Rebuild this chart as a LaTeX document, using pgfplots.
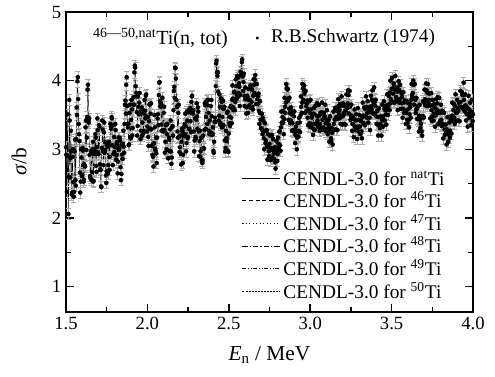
\documentclass[border=0pt]{standalone}
\usepackage{pgfplots}
\usepackage{pgfplotstable}
\pgfplotsset{compat=1.18}
\usepackage{fontspec}
\setmainfont{Liberation Serif}

\pgfplotstableread[row sep=\\]{
E s\\
1.500 3.03\\ 1.505 2.38\\ 1.510 3.51\\ 1.515 2.06\\ 1.520 3.72\\ 1.525 2.59\\ 1.530 3.27\\ 1.535 2.34\\ 1.540 2.89\\ 1.545 2.52\\
1.550 2.38\\ 1.555 3.14\\ 1.560 2.47\\ 1.565 3.61\\ 1.570 3.99\\ 1.575 3.73\\ 1.580 3.22\\ 1.585 2.66\\ 1.590 2.53\\ 1.595 2.88\\
1.600 2.63\\ 1.605 2.98\\ 1.610 2.56\\ 1.615 2.76\\ 1.620 3.32\\ 1.625 2.99\\ 1.630 3.47\\ 1.635 3.94\\ 1.640 3.39\\ 1.645 2.92\\
1.650 2.58\\ 1.655 2.94\\ 1.660 2.67\\ 1.665 3.11\\ 1.670 2.54\\ 1.675 2.93\\ 1.680 3.22\\ 1.685 2.76\\ 1.690 3.03\\ 1.695 3.28\\
1.700 2.93\\ 1.705 3.33\\ 1.710 2.71\\ 1.715 2.46\\ 1.720 3.02\\ 1.725 3.29\\ 1.730 2.77\\ 1.735 3.39\\ 1.740 2.99\\ 1.745 2.62\\
1.750 2.68\\ 1.755 3.04\\ 1.760 2.77\\ 1.765 3.11\\ 1.770 2.89\\ 1.775 3.33\\ 1.780 3.47\\ 1.785 3.06\\ 1.790 2.93\\ 1.795 3.18\\
1.800 3.03\\ 1.805 3.28\\ 1.810 2.91\\ 1.815 3.06\\ 1.820 2.82\\ 1.825 2.99\\ 1.830 3.17\\ 1.835 2.74\\ 1.840 2.64\\ 1.845 2.92\\
1.850 3.08\\ 1.855 3.04\\ 1.860 3.37\\ 1.865 3.71\\ 1.870 3.94\\ 1.875 3.63\\ 1.880 3.32\\ 1.885 3.06\\ 1.890 3.53\\ 1.895 3.18\\
1.900 3.43\\ 1.905 3.58\\ 1.910 3.31\\ 1.915 3.76\\ 1.920 4.12\\ 1.925 4.19\\ 1.930 3.77\\ 1.935 3.54\\ 1.940 3.34\\ 1.945 3.62\\
1.950 3.68\\ 1.955 3.54\\ 1.960 3.27\\ 1.965 3.61\\ 1.970 3.39\\ 1.975 3.23\\ 1.980 3.52\\ 1.985 3.56\\ 1.990 3.78\\ 1.995 3.48\\
2.000 3.33\\ 2.005 3.18\\ 2.010 3.41\\ 2.015 3.66\\ 2.020 3.52\\ 2.025 3.29\\ 2.030 2.92\\ 2.035 2.89\\ 2.040 3.09\\ 2.045 3.32\\
2.050 2.98\\ 2.055 2.94\\ 2.060 3.17\\ 2.065 3.51\\ 2.070 3.79\\ 2.075 3.98\\ 2.080 3.62\\ 2.085 3.36\\ 2.090 3.63\\ 2.095 3.28\\
2.100 3.53\\ 2.105 3.28\\ 2.110 3.11\\ 2.115 3.36\\ 2.120 3.22\\ 2.125 2.99\\ 2.130 2.87\\ 2.135 3.14\\ 2.140 3.29\\ 2.145 2.97\\
2.150 2.88\\ 2.155 3.34\\ 2.160 3.57\\ 2.165 3.91\\ 2.170 4.19\\ 2.175 4.03\\ 2.180 3.62\\ 2.185 3.26\\ 2.190 3.53\\ 2.195 3.18\\
2.200 3.03\\ 2.205 2.93\\ 2.210 3.11\\ 2.215 3.26\\ 2.220 2.92\\ 2.225 3.19\\ 2.230 3.37\\ 2.235 3.34\\ 2.240 3.09\\ 2.245 3.42\\
2.250 3.18\\ 2.255 3.54\\ 2.260 3.57\\ 2.265 3.41\\ 2.270 3.69\\ 2.275 3.78\\ 2.280 3.52\\ 2.285 3.26\\ 2.290 3.13\\ 2.295 3.18\\
2.300 3.43\\ 2.305 3.48\\ 2.310 3.61\\ 2.315 3.26\\ 2.320 3.12\\ 2.325 2.89\\ 2.330 3.17\\ 2.335 2.84\\ 2.340 2.84\\ 2.345 3.02\\
2.350 3.28\\ 2.355 3.64\\ 2.360 3.47\\ 2.365 3.71\\ 2.370 3.64\\ 2.375 3.53\\ 2.380 3.22\\ 2.385 3.26\\ 2.390 3.63\\ 2.395 3.48\\
2.400 3.23\\ 2.405 2.98\\ 2.410 3.11\\ 2.415 3.46\\ 2.420 3.92\\ 2.425 4.29\\ 2.430 4.07\\ 2.435 3.84\\ 2.440 3.49\\ 2.445 3.62\\
2.450 3.38\\ 2.455 3.69\\ 2.460 3.47\\ 2.465 3.71\\ 2.470 3.59\\ 2.475 3.13\\ 2.480 3.02\\ 2.485 3.16\\ 2.490 3.53\\ 2.495 2.98\\
2.500 3.23\\ 2.505 3.38\\ 2.510 3.61\\ 2.515 3.46\\ 2.520 3.72\\ 2.525 3.74\\ 2.530 3.57\\ 2.535 3.84\\ 2.540 3.69\\ 2.545 3.92\\
2.550 3.78\\ 2.555 4.04\\ 2.560 3.82\\ 2.565 3.91\\ 2.570 3.79\\ 2.575 4.08\\ 2.580 4.27\\ 2.585 4.06\\ 2.590 3.98\\ 2.595 3.78\\
2.600 3.73\\ 2.605 3.73\\ 2.610 3.61\\ 2.615 3.76\\ 2.620 3.72\\ 2.625 3.64\\ 2.630 3.72\\ 2.635 3.89\\ 2.640 3.69\\ 2.645 3.62\\
2.650 3.78\\ 2.655 3.94\\ 2.660 4.02\\ 2.665 3.96\\ 2.670 3.79\\ 2.675 3.73\\ 2.680 3.77\\ 2.685 3.56\\ 2.690 3.53\\ 2.695 3.43\\
2.700 3.43\\ 2.705 3.28\\ 2.710 3.46\\ 2.715 3.16\\ 2.720 3.27\\ 2.725 3.09\\ 2.730 3.27\\ 2.735 3.04\\ 2.740 3.04\\ 2.745 2.97\\
2.750 3.08\\ 2.755 2.99\\ 2.760 3.02\\ 2.765 3.21\\ 2.770 2.99\\ 2.775 2.93\\ 2.780 2.97\\ 2.785 2.81\\ 2.790 2.83\\ 2.795 2.98\\
2.800 2.93\\ 2.805 3.08\\ 2.810 3.26\\ 2.815 3.06\\ 2.820 3.32\\ 2.825 3.39\\ 2.830 3.47\\ 2.835 3.39\\ 2.840 3.44\\ 2.845 3.62\\
2.850 3.68\\ 2.855 3.89\\ 2.860 3.87\\ 2.865 3.71\\ 2.870 3.59\\ 2.875 3.53\\ 2.880 3.42\\ 2.885 3.51\\ 2.890 3.38\\ 2.895 3.28\\
2.900 3.48\\ 2.905 3.28\\ 2.910 3.21\\ 2.915 3.26\\ 2.920 3.17\\ 2.925 3.19\\ 2.930 3.27\\ 2.935 3.39\\ 2.940 3.49\\ 2.945 3.62\\
2.950 3.68\\ 2.955 3.89\\ 2.960 3.87\\ 2.965 3.81\\ 2.970 3.69\\ 2.975 3.63\\ 2.980 3.67\\ 2.985 3.46\\ 2.990 3.58\\ 2.995 3.38\\
3.000 3.53\\ 3.005 3.58\\ 3.010 3.46\\ 3.015 3.31\\ 3.020 3.52\\ 3.025 3.29\\ 3.030 3.37\\ 3.035 3.64\\ 3.040 3.49\\ 3.045 3.42\\
3.050 3.48\\ 3.055 3.49\\ 3.060 3.37\\ 3.065 3.51\\ 3.070 3.54\\ 3.075 3.43\\ 3.080 3.32\\ 3.085 3.46\\ 3.090 3.48\\ 3.095 3.38\\
3.100 3.38\\ 3.105 3.43\\ 3.110 3.31\\ 3.115 3.36\\ 3.120 3.27\\ 3.125 3.29\\ 3.130 3.12\\ 3.135 3.24\\ 3.140 3.29\\ 3.145 3.37\\
3.150 3.43\\ 3.155 3.44\\ 3.160 3.47\\ 3.165 3.56\\ 3.170 3.44\\ 3.175 3.63\\ 3.180 3.57\\ 3.185 3.46\\ 3.190 3.63\\ 3.195 3.48\\
3.200 3.48\\ 3.205 3.53\\ 3.210 3.51\\ 3.215 3.56\\ 3.220 3.57\\ 3.225 3.64\\ 3.230 3.67\\ 3.235 3.79\\ 3.240 3.64\\ 3.245 3.62\\
3.250 3.48\\ 3.255 3.49\\ 3.260 3.37\\ 3.265 3.36\\ 3.270 3.44\\ 3.275 3.33\\ 3.280 3.42\\ 3.285 3.31\\ 3.290 3.33\\ 3.295 3.43\\
3.300 3.33\\ 3.305 3.33\\ 3.310 3.41\\ 3.315 3.26\\ 3.320 3.47\\ 3.325 3.49\\ 3.330 3.37\\ 3.335 3.59\\ 3.340 3.49\\ 3.345 3.62\\
3.350 3.53\\ 3.355 3.54\\ 3.360 3.57\\ 3.365 3.46\\ 3.370 3.54\\ 3.375 3.63\\ 3.380 3.72\\ 3.385 3.71\\ 3.390 3.68\\ 3.395 3.68\\
3.400 3.63\\ 3.405 3.48\\ 3.410 3.56\\ 3.415 3.36\\ 3.420 3.47\\ 3.425 3.34\\ 3.430 3.37\\ 3.435 3.34\\ 3.440 3.44\\ 3.445 3.42\\
3.450 3.48\\ 3.455 3.59\\ 3.460 3.57\\ 3.465 3.51\\ 3.470 3.64\\ 3.475 3.58\\ 3.480 3.62\\ 3.485 3.66\\ 3.490 3.83\\ 3.495 3.73\\
3.500 3.88\\ 3.505 3.88\\ 3.510 3.81\\ 3.515 3.91\\ 3.520 3.87\\ 3.525 3.89\\ 3.530 3.72\\ 3.535 3.84\\ 3.540 3.69\\ 3.545 3.87\\
3.550 3.73\\ 3.555 3.84\\ 3.560 3.67\\ 3.565 3.76\\ 3.570 3.59\\ 3.575 3.68\\ 3.580 3.57\\ 3.585 3.56\\ 3.590 3.53\\ 3.595 3.43\\
3.600 3.58\\ 3.605 3.43\\ 3.610 3.51\\ 3.615 3.61\\ 3.620 3.72\\ 3.625 3.79\\ 3.630 3.82\\ 3.635 3.94\\ 3.640 3.74\\ 3.645 3.72\\
3.650 3.58\\ 3.655 3.59\\ 3.660 3.62\\ 3.665 3.46\\ 3.670 3.49\\ 3.675 3.43\\ 3.680 3.37\\ 3.685 3.26\\ 3.690 3.48\\ 3.695 3.48\\
3.700 3.68\\ 3.705 3.73\\ 3.710 3.86\\ 3.715 3.86\\ 3.720 3.82\\ 3.725 3.69\\ 3.730 3.72\\ 3.735 3.64\\ 3.740 3.64\\ 3.745 3.57\\
3.750 3.48\\ 3.755 3.64\\ 3.760 3.52\\ 3.765 3.61\\ 3.770 3.49\\ 3.775 3.58\\ 3.780 3.67\\ 3.785 3.56\\ 3.790 3.53\\ 3.795 3.53\\
3.800 3.53\\ 3.805 3.43\\ 3.810 3.56\\ 3.815 3.36\\ 3.820 3.37\\ 3.825 3.29\\ 3.830 3.22\\ 3.835 3.24\\ 3.840 3.29\\ 3.845 3.22\\
3.850 3.23\\ 3.855 3.39\\ 3.860 3.27\\ 3.865 3.41\\ 3.870 3.49\\ 3.875 3.48\\ 3.880 3.57\\ 3.885 3.46\\ 3.890 3.63\\ 3.895 3.53\\
3.900 3.53\\ 3.905 3.58\\ 3.910 3.56\\ 3.915 3.61\\ 3.920 3.62\\ 3.925 3.69\\ 3.930 3.62\\ 3.935 3.79\\ 3.940 3.79\\ 3.945 3.72\\
3.950 3.63\\ 3.955 3.64\\ 3.960 3.52\\ 3.965 3.51\\ 3.970 3.59\\ 3.975 3.58\\ 3.980 3.52\\ 3.985 3.56\\ 3.990 3.48\\ 3.995 3.53\\
4.000 3.51\\
}\datatab

\pgfplotstableread[row sep=\\]{
E s\\
1.5025 2.92\\ 1.5075 2.70\\ 1.5125 2.90\\ 1.5175 2.60\\ 1.5225 3.42\\ 1.5275 2.87\\ 1.5325 2.97\\ 1.5375 2.37\\ 1.5425 3.00\\ 1.5475 2.31\\
1.5525 2.97\\ 1.5575 2.55\\ 1.5625 3.15\\ 1.5675 3.50\\ 1.5725 4.05\\ 1.5775 3.37\\ 1.5825 3.12\\ 1.5875 2.37\\ 1.5925 3.00\\ 1.5975 2.61\\
1.6025 3.02\\ 1.6075 2.53\\ 1.6125 2.78\\ 1.6175 2.75\\ 1.6225 3.42\\ 1.6275 3.17\\ 1.6325 3.87\\ 1.6375 3.42\\ 1.6425 3.45\\ 1.6475 2.61\\
1.6525 2.97\\ 1.6575 2.55\\ 1.6625 3.00\\ 1.6675 2.53\\ 1.6725 3.00\\ 1.6775 2.97\\ 1.6825 3.17\\ 1.6875 2.67\\ 1.6925 3.45\\ 1.6975 2.96\\
1.7025 3.35\\ 1.7075 2.78\\ 1.7125 2.70\\ 1.7175 2.45\\ 1.7225 3.42\\ 1.7275 2.97\\ 1.7325 3.25\\ 1.7375 2.95\\ 1.7425 3.10\\ 1.7475 2.51\\
1.7525 3.07\\ 1.7575 2.65\\ 1.7625 3.05\\ 1.7675 2.70\\ 1.7725 3.37\\ 1.7775 3.30\\ 1.7825 3.45\\ 1.7875 2.77\\ 1.7925 3.35\\ 1.7975 2.96\\
1.8025 3.37\\ 1.8075 2.85\\ 1.8125 3.10\\ 1.8175 2.65\\ 1.8225 3.17\\ 1.8275 3.02\\ 1.8325 3.12\\ 1.8375 2.55\\ 1.8425 3.07\\ 1.8475 2.86\\
1.8525 3.27\\ 1.8575 2.95\\ 1.8625 3.65\\ 1.8675 3.52\\ 1.8725 4.05\\ 1.8775 3.37\\ 1.8825 3.37\\ 1.8875 3.07\\ 1.8925 3.65\\ 1.8975 3.16\\
1.9025 3.72\\ 1.9075 3.20\\ 1.9125 3.65\\ 1.9175 3.65\\ 1.9225 4.22\\ 1.9275 3.92\\ 1.9325 3.82\\ 1.9375 3.20\\ 1.9425 3.77\\ 1.9475 3.51\\
1.9525 3.82\\ 1.9575 3.15\\ 1.9625 3.55\\ 1.9675 3.20\\ 1.9725 3.57\\ 1.9775 3.27\\ 1.9825 3.72\\ 1.9875 3.45\\ 1.9925 3.80\\ 1.9975 3.26\\
2.0025 3.47\\ 2.0075 3.05\\ 2.0125 3.65\\ 2.0175 3.30\\ 2.0225 3.67\\ 2.0275 3.05\\ 2.0325 3.07\\ 2.0375 2.75\\ 2.0425 3.50\\ 2.0475 3.01\\
2.0525 3.17\\ 2.0575 2.80\\ 2.0625 3.45\\ 2.0675 3.35\\ 2.0725 3.97\\ 2.0775 3.70\\ 2.0825 3.67\\ 2.0875 3.27\\ 2.0925 3.75\\ 2.0975 3.26\\
2.1025 3.62\\ 2.1075 2.95\\ 2.1125 3.35\\ 2.1175 3.00\\ 2.1225 3.37\\ 2.1275 2.87\\ 2.1325 3.17\\ 2.1375 2.97\\ 2.1425 3.42\\ 2.1475 2.79\\
2.1525 3.32\\ 2.1575 3.20\\ 2.1625 3.85\\ 2.1675 3.75\\ 2.1725 4.18\\ 2.1775 3.72\\ 2.1825 3.62\\ 2.1875 3.17\\ 2.1925 3.65\\ 2.1975 2.96\\
2.2025 3.20\\ 2.2075 2.78\\ 2.2125 3.30\\ 2.2175 2.80\\ 2.2225 3.32\\ 2.2275 3.22\\ 2.2325 3.52\\ 2.2375 2.97\\ 2.2425 3.55\\ 2.2475 3.16\\
2.2525 3.57\\ 2.2575 3.30\\ 2.2625 3.60\\ 2.2675 3.25\\ 2.2725 3.77\\ 2.2775 3.55\\ 2.2825 3.57\\ 2.2875 2.97\\ 2.2925 3.45\\ 2.2975 3.16\\
2.3025 3.67\\ 2.3075 3.30\\ 2.3125 3.55\\ 2.3175 2.90\\ 2.3225 3.27\\ 2.3275 2.97\\ 2.3325 3.17\\ 2.3375 2.80\\ 2.3425 3.20\\ 2.3475 3.01\\
2.3525 3.67\\ 2.3575 3.30\\ 2.3625 3.70\\ 2.3675 3.37\\ 2.3725 3.72\\ 2.3775 3.27\\ 2.3825 3.42\\ 2.3875 3.22\\ 2.3925 3.72\\ 2.3975 3.21\\
2.4025 3.32\\ 2.4075 2.95\\ 2.4125 3.40\\ 2.4175 3.40\\ 2.4225 4.25\\ 2.4275 4.12\\ 2.4325 4.12\\ 2.4375 3.42\\ 2.4425 3.80\\ 2.4475 3.36\\
2.4525 3.74\\ 2.4575 3.32\\ 2.4625 3.70\\ 2.4675 3.35\\ 2.4725 3.62\\ 2.4775 2.97\\ 2.4825 3.27\\ 2.4875 3.12\\ 2.4925 3.55\\ 2.4975 2.96\\
2.5025 3.47\\ 2.5075 3.34\\ 2.5125 3.63\\ 2.5175 3.38\\ 2.5225 3.93\\ 2.5275 3.61\\ 2.5325 3.83\\ 2.5375 3.57\\ 2.5425 4.02\\ 2.5475 3.73\\
2.5525 4.07\\ 2.5575 3.77\\ 2.5625 3.96\\ 2.5675 3.63\\ 2.5725 4.13\\ 2.5775 4.08\\ 2.5825 4.31\\ 2.5875 3.85\\ 2.5925 4.10\\ 2.5975 3.63\\
2.6025 3.90\\ 2.6075 3.52\\ 2.6125 3.78\\ 2.6175 3.53\\ 2.6225 3.88\\ 2.6275 3.63\\ 2.6325 3.93\\ 2.6375 3.60\\ 2.6425 3.87\\ 2.6475 3.58\\
2.6525 4.02\\ 2.6575 3.82\\ 2.6625 4.08\\ 2.6675 3.66\\ 2.6725 3.95\\ 2.6775 3.66\\ 2.6825 3.81\\ 2.6875 3.37\\ 2.6925 3.70\\ 2.6975 3.31\\
2.7025 3.52\\ 2.7075 3.22\\ 2.7125 3.41\\ 2.7175 3.00\\ 2.7225 3.38\\ 2.7275 3.13\\ 2.7325 3.28\\ 2.7375 2.85\\ 2.7425 3.22\\ 2.7475 2.90\\
2.7525 3.20\\ 2.7575 2.84\\ 2.7625 3.20\\ 2.7675 2.88\\ 2.7725 3.15\\ 2.7775 2.86\\ 2.7825 3.03\\ 2.7875 2.72\\ 2.7925 3.12\\ 2.7975 2.83\\
2.8025 3.17\\ 2.8075 3.02\\ 2.8125 3.26\\ 2.8175 2.98\\ 2.8225 3.55\\ 2.8275 3.38\\ 2.8325 3.56\\ 2.8375 3.22\\ 2.8425 3.75\\ 2.8475 3.53\\
2.8525 3.95\\ 2.8575 3.72\\ 2.8625 3.88\\ 2.8675 3.43\\ 2.8725 3.75\\ 2.8775 3.38\\ 2.8825 3.61\\ 2.8875 3.27\\ 2.8925 3.55\\ 2.8975 3.26\\
2.9025 3.55\\ 2.9075 3.09\\ 2.9125 3.33\\ 2.9175 3.00\\ 2.9225 3.38\\ 2.9275 3.18\\ 2.9325 3.46\\ 2.9375 3.25\\ 2.9425 3.77\\ 2.9475 3.53\\
2.9525 3.95\\ 2.9575 3.72\\ 2.9625 3.93\\ 2.9675 3.53\\ 2.9725 3.85\\ 2.9775 3.56\\ 2.9825 3.71\\ 2.9875 3.35\\ 2.9925 3.70\\ 2.9975 3.33\\
3.0025 3.72\\ 3.0075 3.37\\ 3.0125 3.48\\ 3.0175 3.21\\ 3.0225 3.60\\ 3.0275 3.28\\ 3.0325 3.63\\ 3.0375 3.37\\ 3.0425 3.67\\ 3.0475 3.33\\
3.0525 3.65\\ 3.0575 3.27\\ 3.0625 3.53\\ 3.0675 3.31\\ 3.0725 3.68\\ 3.0775 3.28\\ 3.0825 3.53\\ 3.0875 3.30\\ 3.0925 3.65\\ 3.0975 3.26\\
3.1025 3.57\\ 3.1075 3.22\\ 3.1125 3.43\\ 3.1175 3.11\\ 3.1225 3.48\\ 3.1275 3.16\\ 3.1325 3.31\\ 3.1375 3.07\\ 3.1425 3.55\\ 3.1475 3.28\\
3.1525 3.60\\ 3.1575 3.29\\ 3.1625 3.61\\ 3.1675 3.28\\ 3.1725 3.73\\ 3.1775 3.51\\ 3.1825 3.66\\ 3.1875 3.37\\ 3.1925 3.77\\ 3.1975 3.36\\
3.2025 3.67\\ 3.2075 3.37\\ 3.2125 3.63\\ 3.2175 3.36\\ 3.2225 3.80\\ 3.2275 3.60\\ 3.2325 3.86\\ 3.2375 3.52\\ 3.2425 3.85\\ 3.2475 3.43\\
3.2525 3.65\\ 3.2575 3.27\\ 3.2625 3.46\\ 3.2675 3.18\\ 3.2725 3.58\\ 3.2775 3.28\\ 3.2825 3.51\\ 3.2875 3.15\\ 3.2925 3.60\\ 3.2975 3.26\\
3.3025 3.50\\ 3.3075 3.22\\ 3.3125 3.43\\ 3.3175 3.16\\ 3.3225 3.68\\ 3.3275 3.38\\ 3.3325 3.61\\ 3.3375 3.35\\ 3.3425 3.77\\ 3.3475 3.46\\
3.3525 3.70\\ 3.3575 3.39\\ 3.3625 3.61\\ 3.3675 3.28\\ 3.3725 3.78\\ 3.3775 3.58\\ 3.3825 3.86\\ 3.3875 3.52\\ 3.3925 3.90\\ 3.3975 3.53\\
3.4025 3.72\\ 3.4075 3.37\\ 3.4125 3.56\\ 3.4175 3.20\\ 3.4225 3.60\\ 3.4275 3.31\\ 3.4325 3.48\\ 3.4375 3.20\\ 3.4425 3.65\\ 3.4475 3.33\\
3.4525 3.70\\ 3.4575 3.42\\ 3.4625 3.63\\ 3.4675 3.36\\ 3.4725 3.80\\ 3.4775 3.50\\ 3.4825 3.78\\ 3.4875 3.57\\ 3.4925 4.00\\ 3.4975 3.68\\
3.5025 4.04\\ 3.5075 3.69\\ 3.5125 3.96\\ 3.5175 3.68\\ 3.5225 4.07\\ 3.5275 3.76\\ 3.5325 3.90\\ 3.5375 3.57\\ 3.5425 3.99\\ 3.5475 3.68\\
3.5525 3.94\\ 3.5575 3.59\\ 3.5625 3.81\\ 3.5675 3.46\\ 3.5725 3.83\\ 3.5775 3.53\\ 3.5825 3.71\\ 3.5875 3.37\\ 3.5925 3.70\\ 3.5975 3.38\\
3.6025 3.67\\ 3.6075 3.32\\ 3.6125 3.66\\ 3.6175 3.46\\ 3.6225 3.95\\ 3.6275 3.76\\ 3.6325 4.00\\ 3.6375 3.65\\ 3.6425 3.95\\ 3.6475 3.53\\
3.6525 3.75\\ 3.6575 3.44\\ 3.6625 3.63\\ 3.6675 3.26\\ 3.6725 3.65\\ 3.6775 3.31\\ 3.6825 3.46\\ 3.6875 3.20\\ 3.6925 3.70\\ 3.6975 3.46\\
3.7025 3.87\\ 3.7075 3.64\\ 3.7125 3.96\\ 3.7175 3.63\\ 3.7225 3.95\\ 3.7275 3.66\\ 3.7325 3.81\\ 3.7375 3.45\\ 3.7425 3.82\\ 3.7475 3.41\\
3.7525 3.72\\ 3.7575 3.42\\ 3.7625 3.66\\ 3.7675 3.33\\ 3.7725 3.73\\ 3.7775 3.53\\ 3.7825 3.76\\ 3.7875 3.37\\ 3.7925 3.75\\ 3.7975 3.41\\
3.8025 3.65\\ 3.8075 3.34\\ 3.8125 3.56\\ 3.8175 3.16\\ 3.8225 3.53\\ 3.8275 3.21\\ 3.8325 3.36\\ 3.8375 3.07\\ 3.8425 3.47\\ 3.8475 3.11\\
3.8525 3.47\\ 3.8575 3.17\\ 3.8625 3.43\\ 3.8675 3.23\\ 3.8725 3.68\\ 3.8775 3.43\\ 3.8825 3.66\\ 3.8875 3.37\\ 3.8925 3.80\\ 3.8975 3.41\\
3.9025 3.72\\ 3.9075 3.42\\ 3.9125 3.68\\ 3.9175 3.41\\ 3.9225 3.85\\ 3.9275 3.61\\ 3.9325 3.83\\ 3.9375 3.60\\ 3.9425 3.97\\ 3.9475 3.56\\
3.9525 3.80\\ 3.9575 3.42\\ 3.9625 3.61\\ 3.9675 3.33\\ 3.9725 3.78\\ 3.9775 3.46\\ 3.9825 3.68\\ 3.9875 3.35\\ 3.9925 3.72\\ 3.9975 3.41\\
}\datatabB

\begin{document}
\begin{tikzpicture}
\begin{axis}[
  scale only axis,
  width=305.25pt, height=225pt,
  xmin=1.5, xmax=4.0, ymin=0.63, ymax=5,
  xtick={1.5,2.0,2.5,3.0,3.5,4.0},
  ytick={1,2,3,4,5},
  minor x tick num=1, minor y tick num=1,
  tick align=inside,
  major tick length=6pt, minor tick length=3.5pt,
  every tick/.style={black, line width=1.1pt},
  axis line style={line width=1.6pt},
  xticklabel style={/pgf/number format/.cd, fixed, fixed zerofill, precision=1},
  /pgf/number format/assume math mode=true,
  tick label style={font=\fontsize{14}{16}\selectfont},
  xlabel={\textit{E}\textsubscript{n} / MeV},
  ylabel={\textit{σ}/b},
  label style={font=\fontsize{16}{18}\selectfont},
  xlabel style={at={(axis description cs:0.5,-0.143)}, anchor=center},
  ylabel style={at={(axis description cs:-0.115,0.5)}, anchor=center},
  legend cell align=left,
  legend style={at={(0.937,0.03)}, anchor=south east, draw=none, fill=none,
    font=\fontsize{14.5}{18}\selectfont, row sep=-0.5pt, inner sep=0pt},
  legend image code/.code={\draw[#1, line width=0.5pt] (0pt,0pt) -- (28.5pt,0pt);},
  clip=true,
]
\addplot[forget plot, only marks, mark=*, mark size=1.5pt,
  mark options={black, fill=black},
  error bars/.cd, y dir=both, y fixed=0.08,
  error bar style={gray!65, line width=0.4pt},
  error mark options={rotate=90, mark size=2pt, gray!65, line width=0.4pt}]
  table[x=E, y=s] {\datatabB};
\addplot[forget plot, black, line width=0.3pt, mark=*, mark size=1.5pt,
  mark options={fill=black},
  error bars/.cd, y dir=both, y fixed=0.08,
  error bar style={gray!65, line width=0.4pt},
  error mark options={rotate=90, mark size=2pt, gray!65, line width=0.4pt}]
  table[x=E, y=s] {\datatab};

\addlegendimage{black, solid}
\addlegendentry{CENDL-3.0 for \textsuperscript{nat}Ti}
\addlegendimage{black, dash pattern=on 3pt off 2pt}
\addlegendentry{CENDL-3.0 for \textsuperscript{46}Ti}
\addlegendimage{black, dash pattern=on 0.8pt off 1.8pt}
\addlegendentry{CENDL-3.0 for \textsuperscript{47}Ti}
\addlegendimage{black, dash pattern=on 4pt off 1.5pt on 1pt off 1.5pt}
\addlegendentry{CENDL-3.0 for \textsuperscript{48}Ti}
\addlegendimage{black, dash pattern=on 3pt off 1.2pt on 0.8pt off 1.2pt on 0.8pt off 1.2pt}
\addlegendentry{CENDL-3.0 for \textsuperscript{49}Ti}
\addlegendimage{black, dash pattern=on 1.5pt off 0.8pt}
\addlegendentry{CENDL-3.0 for \textsuperscript{50}Ti}

\node[anchor=center, font=\fontsize{15}{17}\selectfont] at (rel axis cs:0.232,0.913)
  {\textsuperscript{46—50,nat}Ti(n, tot)};
\node[anchor=center, font=\fontsize{14.5}{17}\selectfont] at (rel axis cs:0.686,0.913)
  {{\fontsize{9}{9}\selectfont •}\hspace{0.6em}R.B.Schwartz (1974)};
\end{axis}
\pgfresetboundingbox
\path ([shift={(-49.5pt,-48pt)}]current axis.south west) rectangle ([shift={(16.5pt,9pt)}]current axis.north east);
\end{tikzpicture}
\end{document}
